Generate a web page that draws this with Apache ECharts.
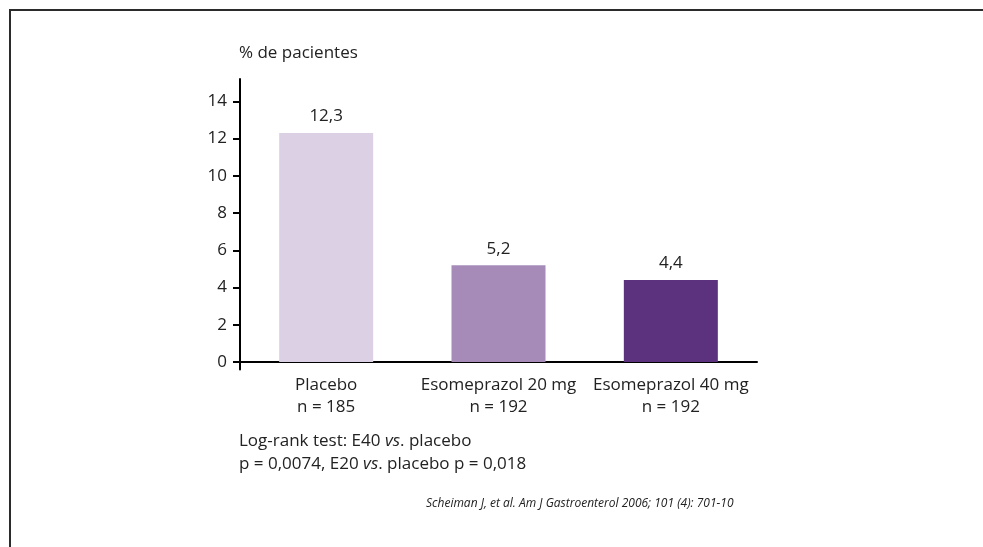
<!DOCTYPE html>
<html>
<head>
<meta charset="utf-8">
<title>% de pacientes</title>
<script src="https://cdn.jsdelivr.net/npm/echarts@6/dist/echarts.min.js"></script>
<style>
    html, body { margin: 0; padding: 0; background: #ffffff; }
    #frame { position: absolute; left: 9px; top: 9px; width: 980px; height: 545px;
             border-left: 2px solid #2b2b2b; border-top: 2px solid #2b2b2b; }
    #chart { position: absolute; left: 0; top: 0; width: 983px; height: 547px; }
</style>
</head>
<body>
<div id="frame"></div>
<div id="chart"></div>
<script>
// datos del gráfico
var categories = ['Placebo', 'Esomeprazol 20 mg', 'Esomeprazol 40 mg']
var sampleSizes = [185, 192, 192]
var percentages = [12.3, 5.2, 4.4]
var yTicks = [0, 2, 4, 6, 8, 10, 12, 14]

var barColors = ['#dcd1e4', '#a68bb8', '#5c327e']
var textColor = '#222222'
var fontName = '"Open Sans", sans-serif'

var chart = echarts.init(document.getElementById('chart'), null, { renderer: 'canvas' })

var option = {
    animation: false,
    textStyle: { fontFamily: fontName, color: textColor },
    title: [
        {
            text: '% de pacientes',
            left: 234, top: 40,
            textStyle: { fontSize: 17, fontWeight: 'normal', color: textColor, fontFamily: fontName }
        },
        {
            // nota de la prueba estadística
            text: '{a|Log-rank test: E40 }{i|vs}{a|. placebo}\n{a|p = 0,0074, E20 }{i|vs}{a|. placebo p = 0,018}',
            left: 234, top: 425,
            textStyle: {
                fontWeight: 'normal',
                rich: {
                    a: { fontSize: 17, fontWeight: 'normal', color: textColor, fontFamily: fontName, lineHeight: 23 },
                    i: { fontSize: 17, fontWeight: 'normal', color: textColor, fontFamily: fontName, fontStyle: 'italic', lineHeight: 23 }
                }
            }
        },
        {
            text: 'Scheiman J, et al. Am J Gastroenterol 2006; 101 (4): 701-10',
            left: 421, top: 493,
            textStyle: { fontSize: 12, fontWeight: 'normal', fontStyle: 'italic', color: textColor, fontFamily: fontName }
        }
    ],
    grid: { left: 240, right: 226, top: 79, bottom: 177.5, containLabel: false },
    xAxis: {
        type: 'category',
        data: categories.map(function (c, i) { return c + '\nn = ' + sampleSizes[i] }),
        axisLine: { onZero: true, lineStyle: { color: '#000', width: 2 } },
        axisTick: { show: false },
        axisLabel: { interval: 0, hideOverlap: false, margin: 5, fontSize: 17, color: textColor, lineHeight: 22, fontFamily: fontName }
    },
    yAxis: {
        type: 'value',
        min: -0.4,
        max: 15.2,
        splitLine: { show: false },
        axisLine: { show: true, lineStyle: { color: '#000', width: 2 } },
        axisTick: { show: true, length: 7, customValues: yTicks, lineStyle: { color: '#000', width: 2 } },
        axisLabel: { customValues: yTicks, margin: 13, fontSize: 17, color: textColor, fontFamily: fontName }
    },
    series: [
        {
            type: 'bar',
            barWidth: 94,
            data: percentages.map(function (v, i) {
                return { value: v, itemStyle: { color: barColors[i] } }
            }),
            label: {
                show: true,
                position: 'top',
                distance: 8,
                fontSize: 17,
                color: textColor,
                fontFamily: fontName,
                formatter: function (p) { return String(p.value).replace('.', ',') }
            }
        }
    ]
}

chart.setOption(option)
window.onresize = function () { chart.resize() }
</script>
</body>
</html>
